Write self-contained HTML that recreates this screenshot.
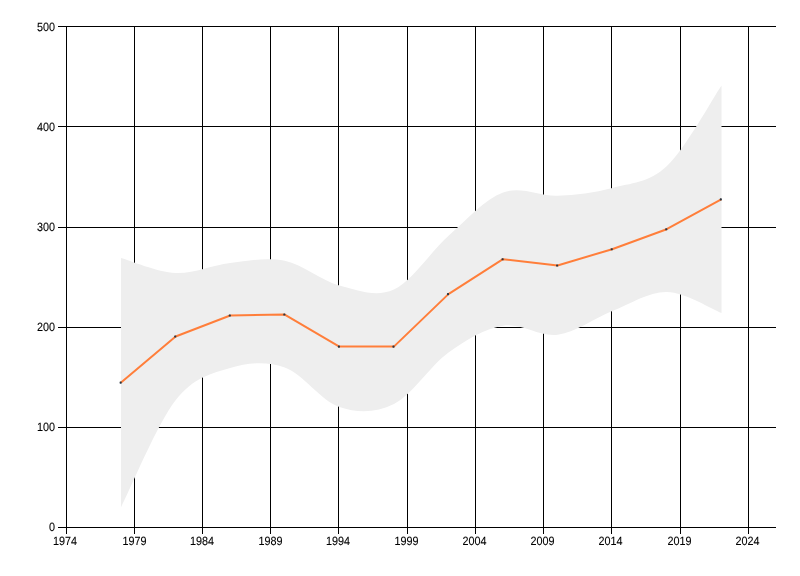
<!DOCTYPE html>
<html><head><meta charset="utf-8"><title>Chart</title>
<style>html,body{margin:0;padding:0;background:#fff;overflow:hidden}svg{display:block}</style>
</head><body>
<svg width="800" height="576" viewBox="0 0 800 576">
<rect width="800" height="576" fill="#fff"/>
<g fill="#000" shape-rendering="crispEdges">
<rect x="66" y="26" width="1" height="508"/>
<rect x="134" y="26" width="1" height="508"/>
<rect x="202" y="26" width="1" height="508"/>
<rect x="270" y="26" width="1" height="508"/>
<rect x="338" y="26" width="1" height="508"/>
<rect x="407" y="26" width="1" height="508"/>
<rect x="475" y="26" width="1" height="508"/>
<rect x="543" y="26" width="1" height="508"/>
<rect x="611" y="26" width="1" height="508"/>
<rect x="680" y="26" width="1" height="508"/>
<rect x="748" y="26" width="1" height="508"/>
<rect x="58" y="26" width="718" height="1"/>
<rect x="58" y="126" width="718" height="1"/>
<rect x="58" y="227" width="718" height="1"/>
<rect x="58" y="327" width="718" height="1"/>
<rect x="58" y="427" width="718" height="1"/>
<rect x="58" y="527" width="718" height="1"/>
</g>
<path d="M121.00 258.00 C130.10 260.50 157.39 272.17 175.59 273.00 C193.79 273.83 211.98 265.03 230.18 263.00 C248.38 260.97 266.58 257.05 284.77 260.80 C302.97 264.55 321.17 280.72 339.36 285.50 C357.56 290.28 375.76 297.78 393.95 289.50 C412.15 281.22 430.35 251.97 448.55 235.80 C466.74 219.63 484.94 199.18 503.14 192.50 C521.33 185.82 539.53 196.50 557.73 195.75 C575.92 195.00 594.12 192.96 612.32 188.00 C630.52 183.04 648.71 183.10 666.91 166.00 C685.11 148.90 712.40 98.83 721.50 85.40 L721.50 313.00 C712.40 309.50 685.11 292.33 666.91 292.00 C648.71 291.67 630.52 303.87 612.32 311.00 C594.12 318.13 575.92 332.34 557.73 334.80 C539.53 337.26 521.33 322.80 503.14 325.75 C484.94 328.70 466.74 339.46 448.55 352.50 C430.35 365.54 412.15 394.92 393.95 404.00 C375.76 413.08 357.56 413.08 339.36 407.00 C321.17 400.92 302.97 374.00 284.77 367.50 C266.58 361.00 248.38 362.53 230.18 368.00 C211.98 373.47 193.79 377.08 175.59 400.30 C157.39 423.52 130.10 489.47 121.00 507.30Z" fill="#eeeeee"/>
<polyline points="121.06,382.60 175.62,336.55 230.18,315.55 284.74,314.55 339.30,346.60 393.86,346.60 448.42,294.10 502.98,259.20 557.54,265.45 612.10,249.20 666.66,229.20 721.22,199.40" fill="none" stroke="#ff7e3a" stroke-width="2" stroke-linejoin="round"/>
<g fill="#2b3640">
<rect x="119.61" y="381.55" width="2.1" height="2.1" rx="0.6"/>
<rect x="174.17" y="335.50" width="2.1" height="2.1" rx="0.6"/>
<rect x="228.73" y="314.50" width="2.1" height="2.1" rx="0.6"/>
<rect x="283.29" y="313.50" width="2.1" height="2.1" rx="0.6"/>
<rect x="337.85" y="345.55" width="2.1" height="2.1" rx="0.6"/>
<rect x="392.41" y="345.55" width="2.1" height="2.1" rx="0.6"/>
<rect x="446.97" y="293.05" width="2.1" height="2.1" rx="0.6"/>
<rect x="501.53" y="258.15" width="2.1" height="2.1" rx="0.6"/>
<rect x="556.09" y="264.40" width="2.1" height="2.1" rx="0.6"/>
<rect x="610.65" y="248.15" width="2.1" height="2.1" rx="0.6"/>
<rect x="665.21" y="228.15" width="2.1" height="2.1" rx="0.6"/>
<rect x="719.77" y="198.35" width="2.1" height="2.1" rx="0.6"/>
</g>
<g font-family="'Liberation Sans', sans-serif" text-rendering="geometricPrecision" font-size="12" fill="#000" stroke="#000" stroke-width="0.1">
<text transform="translate(55.00 30.80) scale(0.9 1)" text-anchor="end">500</text>
<text transform="translate(55.00 130.80) scale(0.9 1)" text-anchor="end">400</text>
<text transform="translate(55.00 230.80) scale(0.9 1)" text-anchor="end">300</text>
<text transform="translate(55.00 330.80) scale(0.9 1)" text-anchor="end">200</text>
<text transform="translate(55.00 430.80) scale(0.9 1)" text-anchor="end">100</text>
<text transform="translate(55.00 530.80) scale(0.9 1)" text-anchor="end">0</text>
<text transform="translate(64.90 544.80) scale(0.9 1)" text-anchor="middle">1974</text>
<text transform="translate(134.40 544.80) scale(0.9 1)" text-anchor="middle">1979</text>
<text transform="translate(201.90 544.80) scale(0.9 1)" text-anchor="middle">1984</text>
<text transform="translate(270.40 544.80) scale(0.9 1)" text-anchor="middle">1989</text>
<text transform="translate(337.90 544.80) scale(0.9 1)" text-anchor="middle">1994</text>
<text transform="translate(406.40 544.80) scale(0.9 1)" text-anchor="middle">1999</text>
<text transform="translate(474.40 544.80) scale(0.9 1)" text-anchor="middle">2004</text>
<text transform="translate(542.60 544.80) scale(0.9 1)" text-anchor="middle">2009</text>
<text transform="translate(610.40 544.80) scale(0.9 1)" text-anchor="middle">2014</text>
<text transform="translate(679.40 544.80) scale(0.9 1)" text-anchor="middle">2019</text>
<text transform="translate(747.40 544.80) scale(0.9 1)" text-anchor="middle">2024</text>
</g>
</svg>
</body></html>
